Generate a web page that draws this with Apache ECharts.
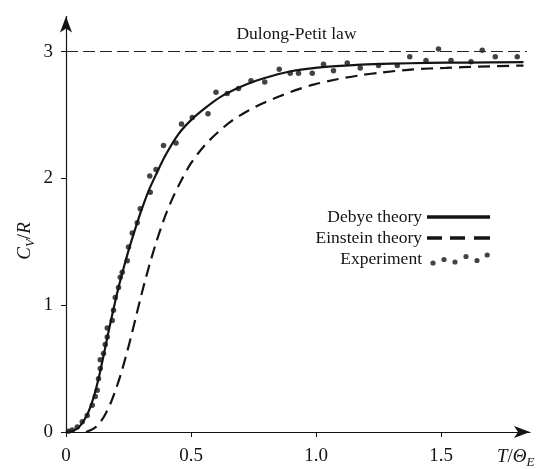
<!DOCTYPE html>
<html>
<head>
<meta charset="utf-8">
<script src="https://cdn.jsdelivr.net/npm/echarts@6/dist/echarts.min.js"></script>
<style>
  html, body { margin: 0; padding: 0; background: #fff; }
  #chart { width: 543px; height: 469px; }
</style>
</head>
<body>
<div id="chart"></div>
<script>
// Heat capacity C_V/R versus reduced temperature T/Θ_E

// Debye theory curve [T/Θ_E, C_V/R]
const debyeCurve = [
  [0, 0], [0.03, 0.01], [0.05, 0.035], [0.07, 0.085], [0.09, 0.16], [0.11, 0.27],
  [0.13, 0.42], [0.15, 0.60], [0.17, 0.79], [0.19, 0.97], [0.21, 1.14],
  [0.23, 1.29], [0.25, 1.43], [0.275, 1.59], [0.30, 1.74], [0.33, 1.90],
  [0.36, 2.03], [0.40, 2.19], [0.45, 2.35], [0.50, 2.46], [0.56, 2.56],
  [0.62, 2.645], [0.69, 2.715], [0.76, 2.77], [0.83, 2.812], [0.90, 2.845],
  [0.99, 2.87], [1.08, 2.885], [1.18, 2.897], [1.30, 2.905], [1.45, 2.911],
  [1.60, 2.914], [1.83, 2.917]
];

// Einstein theory curve [T/Θ_E, C_V/R]
const einsteinCurve = [
  [0.08, 0], [0.10, 0.015], [0.12, 0.04], [0.14, 0.085], [0.16, 0.15],
  [0.18, 0.235], [0.20, 0.34], [0.22, 0.46], [0.24, 0.60], [0.26, 0.75],
  [0.28, 0.91], [0.30, 1.07], [0.32, 1.22], [0.34, 1.36], [0.36, 1.49],
  [0.38, 1.61], [0.40, 1.72], [0.43, 1.86], [0.46, 1.98], [0.50, 2.12],
  [0.55, 2.25], [0.60, 2.35], [0.66, 2.45], [0.725, 2.53], [0.79, 2.595],
  [0.857, 2.65], [0.925, 2.70], [0.99, 2.74], [1.08, 2.78], [1.165, 2.81],
  [1.26, 2.835], [1.39, 2.86], [1.52, 2.872], [1.65, 2.882], [1.83, 2.89]
];

// Measured points [T/Θ_E, C_V/R]
const experimentPoints = [
  [0.01, 0.005], [0.025, 0.015], [0.045, 0.04], [0.065, 0.08], [0.085, 0.13],
  [0.105, 0.21], [0.117, 0.28], [0.125, 0.33], [0.13, 0.42], [0.137, 0.50],
  [0.137, 0.57], [0.15, 0.62], [0.157, 0.69], [0.165, 0.75], [0.165, 0.82],
  [0.185, 0.88], [0.19, 0.96], [0.197, 1.06], [0.21, 1.14], [0.217, 1.22],
  [0.225, 1.26], [0.245, 1.35], [0.25, 1.46], [0.265, 1.57], [0.285, 1.65],
  [0.297, 1.76], [0.337, 1.89], [0.335, 2.02], [0.36, 2.07], [0.39, 2.26],
  [0.44, 2.28], [0.462, 2.43], [0.505, 2.48], [0.568, 2.51], [0.6, 2.68],
  [0.645, 2.67], [0.69, 2.71], [0.74, 2.77], [0.795, 2.76], [0.853, 2.86],
  [0.897, 2.83], [0.93, 2.83], [0.985, 2.83], [1.03, 2.90], [1.07, 2.85],
  [1.125, 2.91], [1.177, 2.87], [1.25, 2.89], [1.325, 2.89], [1.375, 2.96],
  [1.44, 2.93], [1.49, 3.02], [1.54, 2.93], [1.62, 2.92], [1.665, 3.01],
  [1.717, 2.96], [1.805, 2.96]
];

// Classical limit (Dulong-Petit): C_V/R = 3
const dulongPetitValue = 3;
const dulongPetitSpan = [0, 1.844];

// Axis ticks
const xTickValues = [0, 0.5, 1.0, 1.5];
const xTickLabels = ['0', '0.5', '1.0', '1.5'];
const yTickValues = [0, 1, 2, 3];
const yTickLabels = ['0', '1', '2', '3'];

const seriesNames = ['Debye theory', 'Einstein theory', 'Experiment'];

const INK = '#141414';
const SERIF = '"Liberation Serif", "DejaVu Serif", serif';

const chart = echarts.init(document.getElementById('chart'), null, { renderer: 'canvas' });

const xMax = 1.856;
const yMax = 3.277;

const baseX = { type: 'value', min: 0, max: xMax, splitLine: { show: false } };
const baseY = { type: 'value', min: 0, max: yMax, splitLine: { show: false } };

// legend icons drawn in a 63 x 14 box (the leading moves pin the box size)
const BOX = 'M0,0M63,14';
const iconSolid = 'path://' + BOX + 'M0,5.2H63V8.8H0Z';
const iconDashed = 'path://' + BOX + 'M0,5.2H15V8.8H0Z M23,5.2H38V8.8H23Z M47,5.2H63V8.8H47Z';
function dot(cx, cy, r) {
  return 'M' + (cx - r) + ',' + cy + 'a' + r + ',' + r + ' 0 1,0 ' + (2 * r) + ',0' +
         'a' + r + ',' + r + ' 0 1,0 ' + (-2 * r) + ',0Z';
}
const iconDots = 'path://' + BOX + [
  [6, 11], [17, 7.5], [28, 10], [39, 4.5], [50, 8.5], [60.2, 3]
].map(p => dot(p[0], p[1], 2.6)).join(' ');

const richName = {
  i: { fontFamily: SERIF, fontStyle: 'italic', fontSize: 19, lineHeight: 24, fill: INK },
  n: { fontFamily: SERIF, fontSize: 19, lineHeight: 24, fill: INK },
  s: { fontFamily: SERIF, fontStyle: 'italic', fontSize: 13, lineHeight: 13,
       verticalAlign: 'bottom', fill: INK }
};

chart.setOption({
  backgroundColor: '#ffffff',
  animation: false,
  grid: { left: 66, top: 16.5, width: 464, height: 415.5 },
  legend: {
    orient: 'vertical',
    align: 'right',
    right: 48,
    top: 203,
    itemWidth: 63,
    itemHeight: 14,
    itemGap: 3,
    selectedMode: false,
    itemStyle: { borderWidth: 0 },
    textStyle: { fontFamily: SERIF, fontSize: 17.5, color: INK, lineHeight: 18 },
    data: [
      { name: seriesNames[0], icon: iconSolid },
      { name: seriesNames[1], icon: iconDashed },
      { name: seriesNames[2], icon: iconDots }
    ]
  },
  xAxis: [
    Object.assign({}, baseX, {
      axisLine: { show: true, symbol: ['none', 'arrow'], symbolSize: [9, 16],
                  lineStyle: { color: INK, width: 1.2 } },
      axisTick: { show: true, inside: false, length: 5, customValues: xTickValues,
                  lineStyle: { color: INK, width: 1 } },
      axisLabel: {
        show: true, margin: 15, customValues: xTickValues,
        formatter: v => xTickLabels[xTickValues.indexOf(v)],
        fontFamily: SERIF, fontSize: 19, color: INK
      }
    }),
    Object.assign({}, baseX, {
      axisLine: { show: false },
      axisTick: { show: true, inside: true, length: 5, customValues: xTickValues,
                  lineStyle: { color: INK, width: 1 } },
      axisLabel: { show: false }
    })
  ],
  yAxis: [
    Object.assign({}, baseY, {
      axisLine: { show: true, symbol: ['none', 'arrow'], symbolSize: [9, 16],
                  lineStyle: { color: INK, width: 1.2 } },
      axisTick: { show: true, inside: false, length: 5, customValues: yTickValues,
                  lineStyle: { color: INK, width: 1 } },
      axisLabel: {
        show: true, margin: 13, customValues: yTickValues,
        formatter: v => yTickLabels[yTickValues.indexOf(v)],
        fontFamily: SERIF, fontSize: 19, color: INK
      }
    }),
    Object.assign({}, baseY, {
      axisLine: { show: false },
      axisTick: { show: true, inside: true, length: 5, customValues: yTickValues,
                  lineStyle: { color: INK, width: 1 } },
      axisLabel: { show: false }
    })
  ],
  series: [
    {
      name: seriesNames[0],
      type: 'line',
      data: debyeCurve,
      smooth: 0.3,
      showSymbol: false,
      color: INK,
      lineStyle: { color: INK, width: 2.2 },
      z: 3,
      markLine: {
        silent: true,
        symbol: ['none', 'none'],
        lineStyle: { color: '#262626', width: 1.2, type: [12, 5] },
        label: {
          show: true, position: 'middle', distance: 8,
          formatter: 'Dulong-Petit law',
          fontFamily: SERIF, fontSize: 17.5, color: INK
        },
        data: [[
          { coord: [dulongPetitSpan[0], dulongPetitValue] },
          { coord: [dulongPetitSpan[1], dulongPetitValue] }
        ]]
      }
    },
    {
      name: seriesNames[1],
      type: 'line',
      data: einsteinCurve,
      smooth: 0.3,
      showSymbol: false,
      color: INK,
      lineStyle: { color: INK, width: 2.2, type: [12, 7] },
      z: 3
    },
    {
      name: seriesNames[2],
      type: 'scatter',
      data: experimentPoints,
      symbol: 'circle',
      symbolSize: 5.5,
      color: INK,
      itemStyle: { color: INK },
      z: 4
    }
  ],
  graphic: [
    {
      type: 'text',
      x: 497, y: 457,
      style: {
        text: '{i|T}{n|/}{i|Θ}{s|E}',
        verticalAlign: 'middle',
        align: 'left',
        fill: INK,
        rich: richName
      }
    },
    {
      type: 'text',
      x: 25, y: 241,
      rotation: Math.PI / 2,
      style: {
        text: '{i|C}{s|V}{n|/}{i|R}',
        verticalAlign: 'middle',
        align: 'center',
        fill: INK,
        rich: richName
      }
    }
  ]
});
</script>
</body>
</html>
